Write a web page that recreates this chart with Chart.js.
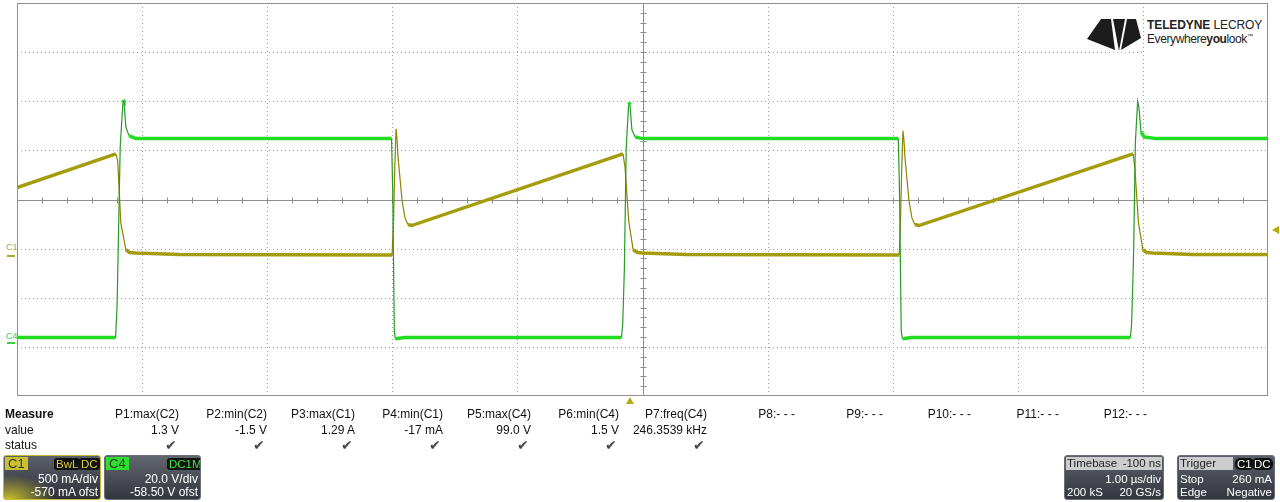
<!DOCTYPE html>
<html>
<head>
<meta charset="utf-8">
<script src="https://cdn.jsdelivr.net/npm/chart.js@4.4.0/dist/chart.umd.min.js"></script>
<style>
  html, body { margin: 0; padding: 0; background: #fff; }
  body { width: 1280px; height: 502px; position: relative; overflow: hidden;
         font-family: "Liberation Sans", Arial, sans-serif; color: #111; }
  #scope { position: absolute; left: 0; top: 0; }
  .abs { position: absolute; white-space: nowrap; }
  .cell { position: absolute; font-size: 12px; line-height: 14px; text-align: right; white-space: nowrap; }
  .check { color: #4a4a4a; font-size: 14px; }
  .chlabel { position: absolute; font-size: 9px; line-height: 9px; }
  .logo { position: absolute; left: 1145px; top: 5px; width: 122px; height: 48px; background: #fff; color: #222; }
  .box { position: absolute; top: 455px; height: 45px; border-radius: 3px; overflow: hidden; color: #fff;
         font-size: 12px; line-height: 13px; box-sizing: border-box; }
  .box .ln { position: absolute; white-space: nowrap; }
  .tag { position: absolute; top: 2px; padding: 0 2px; border-radius: 3px; background: #111; font-size: 11.5px; line-height: 12px; }
  .hdr { position: absolute; left: 1px; top: 1px; height: 13px; background: #cdcdcd; color: #222; }
</style>
</head>
<body>
<canvas id="scope" width="1280" height="502"></canvas>

<div class="logo">
  <div class="abs" style="left:2px; top:13px; font-size:12px; letter-spacing:-0.1px;"><b>TELEDYNE</b> LECROY</div>
  <div class="abs" style="left:2px; top:27px; font-size:12px; letter-spacing:-0.4px;">Everywhere<b>you</b>look<sup style="font-size:6px;">™</sup></div>
</div>
<svg class="abs" style="left:1080px; top:15px;" width="64" height="40">
  <polygon points="7,24 21,4 31,4 35,35" fill="#1c1c1c"/>
  <polygon points="33,4 45,4 39,36" fill="#1c1c1c"/>
  <polygon points="47,4 56,4 61,23 41,35" fill="#1c1c1c"/>
</svg>

<div class="chlabel" style="left:6px; top:243px; color:#b0a82c;">C1</div>
<div class="chlabel" style="left:6px; top:332px; color:#3ad23a;">C4</div>

<div id="measure"></div>

<div class="box" style="left:3px; width:98px; border:1px solid #c4bc34;
     background: radial-gradient(ellipse 70% 80% at 5% 100%, rgba(205,195,45,0.95), rgba(205,195,45,0) 70%), linear-gradient(#5c606a, #2c2f36);">
  <div class="ln" style="left:1px; top:1px; background:#c9c133; color:#333; padding:0 3px; font-size:13px;">C1</div>
  <div class="tag" style="left:50px; color:#d8d042;">BwL</div>
  <div class="tag" style="left:75px; color:#d8d042;">DC</div>
  <div class="ln" style="right:2px; top:17px;">500 mA/div</div>
  <div class="ln" style="right:2px; top:30px;">-570 mA ofst</div>
</div>
<div class="box" style="left:104px; width:97px; border:1px solid #6a6e76; background: linear-gradient(#62666f, #33363d);">
  <div class="ln" style="left:1px; top:1px; background:#2ee02e; color:#333; padding:0 3px; font-size:13px;">C4</div>
  <div class="tag" style="left:62px; color:#3ee83e;">DC1M</div>
  <div class="ln" style="right:2px; top:17px;">20.0 V/div</div>
  <div class="ln" style="right:2px; top:30px;">-58.50 V ofst</div>
</div>

<div class="box" style="left:1064px; width:100px; border:1px solid #6a6e76; background: linear-gradient(#5c606a, #33363d); font-size:11.5px;">
  <div class="hdr" style="width:96px;"></div>
  <div class="ln" style="left:2px; top:1px; color:#222;">Timebase</div>
  <div class="ln" style="right:2px; top:1px; color:#222;">-100 ns</div>
  <div class="ln" style="right:2px; top:17px;">1.00 µs/div</div>
  <div class="ln" style="left:2px; top:30px;">200 kS</div>
  <div class="ln" style="right:2px; top:30px;">20 GS/s</div>
</div>
<div class="box" style="left:1177px; width:98px; border:1px solid #6a6e76; background: linear-gradient(#5c606a, #33363d); font-size:11.5px;">
  <div class="hdr" style="width:54px;"></div>
  <div class="ln" style="left:2px; top:1px; color:#222;">Trigger</div>
  <div class="tag" style="left:57px; color:#fff; border-radius:5px;">C1</div>
  <div class="tag" style="left:74px; color:#fff; border-radius:5px;">DC</div>
  <div class="ln" style="left:2px; top:17px;">Stop</div>
  <div class="ln" style="right:2px; top:17px;">260 mA</div>
  <div class="ln" style="left:2px; top:30px;">Edge</div>
  <div class="ln" style="right:2px; top:30px;">Negative</div>
</div>

<script>
// C1: inductor current (A) vs time (µs)
const timeC1 = [-4.900, -4.110, -4.095, -4.070, -4.030, -4.000, -3.950, -3.600,
  -1.902, -1.890, -1.880, -1.870, -1.862, -1.854, -1.822, -1.798, -1.775, -1.745,
  -0.056, -0.040, -0.010, 0.025, 0.060, 0.100, 0.450,
  2.152, 2.162, 2.172, 2.182, 2.190, 2.198, 2.230, 2.254, 2.277, 2.310,
  4.021, 4.035, 4.065, 4.100, 4.130, 4.180, 4.500, 5.100];
const currentC1 = [0.690, 1.035, 0.960, 0.330, 0.060, 0.030, 0.025, 0.010,
  0.005, 0.350, 0.900, 1.290, 1.180, 1.000, 0.560, 0.380, 0.315, 0.305,
  1.035, 0.900, 0.350, 0.060, 0.030, 0.025, 0.010,
  0.005, 0.330, 0.880, 1.270, 1.170, 1.000, 0.560, 0.380, 0.315, 0.305,
  1.035, 0.900, 0.330, 0.060, 0.030, 0.025, 0.010, 0.010];

// C4: switch node voltage (V) vs time (µs)
const timeC4 = [-4.900, -4.112, -4.100, -4.075, -4.052, -4.045, -4.030, -4.005, -3.950,
  -1.906, -1.896, -1.884, -1.876, -1.800,
  -0.068, -0.058, -0.045, -0.030, -0.010, 0.000, 0.015, 0.040, 0.100,
  2.145, 2.155, 2.168, 2.178, 2.250,
  4.000, 4.010, 4.025, 4.040, 4.058, 4.068, 4.085, 4.110, 4.200, 5.100];
const voltageC4 = [2.3, 2.3, 15, 80, 99, 98.5, 88, 84.5, 83.3,
  83.3, 60, 5, 1.8, 2.3,
  2.3, 8, 30, 80, 98, 97, 87, 84, 83.3,
  83.3, 60, 5, 1.8, 2.3,
  2.3, 8, 35, 82, 98.5, 96, 86, 84, 83.3, 83.3];

// measurement table
const measureNames = ['P1:max(C2)', 'P2:min(C2)', 'P3:max(C1)', 'P4:min(C1)', 'P5:max(C4)', 'P6:min(C4)',
  'P7:freq(C4)', 'P8:- - -', 'P9:- - -', 'P10:- - -', 'P11:- - -', 'P12:- - -'];
const measureValues = ['1.3 V', '-1.5 V', '1.29 A', '-17 mA', '99.0 V', '1.5 V', '246.3539 kHz'];

// scope settings
const timePerDiv = 1.0, timeCenter = 0.1;      // µs, delay -100 ns
const c1PerDiv = 0.5, c1Offset = -0.57;        // A
const c4PerDiv = 20, c4Offset = -58.5;         // V
const triggerLevel = 0.26;                     // A

// measure table text
(function() {
  const el = document.getElementById('measure');
  let html = '<div class="cell" style="left:5px; top:407px; text-align:left;"><b>Measure</b></div>' +
    '<div class="cell" style="left:5px; top:423px; text-align:left;">value</div>' +
    '<div class="cell" style="left:5px; top:438px; text-align:left;">status</div>';
  measureNames.forEach(function(name, i) {
    const right = 1280 - (179 + 88 * i);
    html += '<div class="cell" style="right:' + right + 'px; top:407px;">' + name + '</div>';
    if (i < measureValues.length) {
      html += '<div class="cell" style="right:' + right + 'px; top:423px;">' + measureValues[i] + '</div>';
      html += '<div class="cell check" style="right:' + (right + 2) + 'px; top:438px;">&#10004;</div>';
    }
  });
  el.innerHTML = html;
})();

const xMin = timeCenter - 5 * timePerDiv;
const c1Min = -c1Offset - 4 * c1PerDiv;
const c4Min = -c4Offset - 4 * c4PerDiv;

// graticule: dotted divisions, solid centre axes with minor ticks
const graticule = {
  id: 'graticule',
  beforeDatasetsDraw(chart) {
    const { ctx, chartArea: a, scales } = chart;
    const x = scales.x, y = scales.y;
    ctx.save();
    ctx.lineWidth = 1;
    ctx.strokeStyle = '#a4a4a4';
    ctx.setLineDash([1, 3]);
    for (let i = 1; i < 10; i++) {
      if (i === 5) continue;
      const px = Math.round(x.getPixelForValue(xMin + i * timePerDiv)) + 0.5;
      ctx.beginPath(); ctx.moveTo(px, a.top); ctx.lineTo(px, a.bottom); ctx.stroke();
    }
    for (let j = 1; j < 8; j++) {
      if (j === 4) continue;
      const py = Math.round(y.getPixelForValue(c1Min + j * c1PerDiv)) + 0.5;
      ctx.beginPath(); ctx.moveTo(a.left, py); ctx.lineTo(a.right, py); ctx.stroke();
    }
    ctx.setLineDash([]);
    ctx.strokeStyle = '#8e8e8e';
    const cx = Math.round(x.getPixelForValue(xMin + 5 * timePerDiv)) + 0.5;
    const cy = Math.round(y.getPixelForValue(c1Min + 4 * c1PerDiv)) + 0.5;
    ctx.beginPath();
    ctx.moveTo(cx, a.top); ctx.lineTo(cx, a.bottom);
    ctx.moveTo(a.left, cy); ctx.lineTo(a.right, cy);
    for (let i = 1; i < 50; i++) {
      const px = Math.round(x.getPixelForValue(xMin + i * timePerDiv / 5)) + 0.5;
      ctx.moveTo(px, cy - 3); ctx.lineTo(px, cy + 3);
    }
    for (let j = 1; j < 40; j++) {
      const py = Math.round(y.getPixelForValue(c1Min + j * c1PerDiv / 5)) + 0.5;
      ctx.moveTo(cx - 3, py); ctx.lineTo(cx + 3, py);
    }
    ctx.stroke();
    ctx.strokeRect(a.left + 0.5, a.top + 0.5, a.width - 1, a.height - 1);
    ctx.restore();
  },
  afterDraw(chart) {
    const { ctx, chartArea: a, scales } = chart;
    ctx.save();
    // channel ground markers
    ctx.lineWidth = 2;
    ctx.strokeStyle = '#b0a82c';
    let gy = Math.round(scales.y.getPixelForValue(0));
    ctx.beginPath(); ctx.moveTo(7, gy); ctx.lineTo(15, gy); ctx.stroke();
    ctx.strokeStyle = '#3ad23a';
    gy = Math.round(scales.y2.getPixelForValue(0));
    ctx.beginPath(); ctx.moveTo(7, gy); ctx.lineTo(15, gy); ctx.stroke();
    // trigger level and trigger time markers
    ctx.fillStyle = '#b4ac14';
    const ty = scales.y.getPixelForValue(triggerLevel);
    ctx.beginPath(); ctx.moveTo(1272, ty); ctx.lineTo(1279, ty - 4); ctx.lineTo(1279, ty + 4); ctx.closePath(); ctx.fill();
    const tx = scales.x.getPixelForValue(0);
    ctx.beginPath(); ctx.moveTo(tx, a.bottom + 1); ctx.lineTo(tx - 4, a.bottom + 8); ctx.lineTo(tx + 4, a.bottom + 8); ctx.closePath(); ctx.fill();
    ctx.restore();
  }
};

function steep(c) {
  return Math.abs(c.p1.y - c.p0.y) > 2 * Math.abs(c.p1.x - c.p0.x);
}

new Chart(document.getElementById('scope').getContext('2d'), {
  type: 'line',
  data: {
    datasets: [{
      label: 'C4',
      data: timeC4.map((t, i) => ({ x: t, y: voltageC4[i] })),
      yAxisID: 'y2',
      borderColor: '#22dc22',
      borderWidth: 3,
      pointRadius: 0,
      tension: 0,
      segment: {
        borderWidth: c => steep(c) ? 1.2 : 3.5,
        borderColor: c => steep(c) ? '#279a27' : '#22dc22'
      }
    }, {
      label: 'C1',
      data: timeC1.map((t, i) => ({ x: t, y: currentC1[i] })),
      yAxisID: 'y',
      borderColor: '#a49c0a',
      borderWidth: 3,
      pointRadius: 0,
      tension: 0,
      segment: {
        borderWidth: c => steep(c) ? 1.2 : 3.5,
        borderColor: c => steep(c) ? '#8c8400' : '#a49c0a'
      }
    }]
  },
  options: {
    responsive: false,
    animation: false,
    devicePixelRatio: 1,
    layout: { padding: { left: 17, right: 12, top: 3, bottom: 106 } },
    plugins: { legend: { display: false }, tooltip: { enabled: false } },
    scales: {
      x: { type: 'linear', display: false, min: xMin, max: xMin + 10 * timePerDiv },
      y: { display: false, min: c1Min, max: c1Min + 8 * c1PerDiv },
      y2: { display: false, min: c4Min, max: c4Min + 8 * c4PerDiv }
    }
  },
  plugins: [graticule]
});
</script>
</body>
</html>
